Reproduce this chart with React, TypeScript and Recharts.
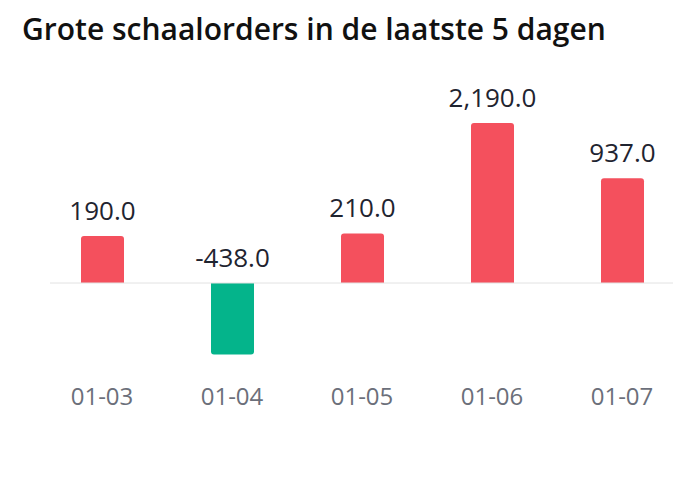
import React from 'react';
import { BarChart, Bar, XAxis, YAxis, Cell, LabelList, ReferenceLine, Rectangle } from 'recharts';

const days = ['01-03', '01-04', '01-05', '01-06', '01-07'];
const orders = [190, -438, 210, 2190, 937];

const RED = '#f4505d';
const GREEN = '#04b48b';
const FONT = '"Open Sans", "Noto Sans", sans-serif';

const data = days.map((day, i) => ({ day, value: orders[i] }));

const fmt = (v: number) => v.toLocaleString('en-US', { minimumFractionDigits: 1, maximumFractionDigits: 1 });

// bars keep a square edge on the zero line, rounded at the far end
const BarShape = (props: any) => {
  const { x, y, width, height, value } = props;
  const top = Math.min(y, y + height);
  const h = Math.abs(height);
  const v = Array.isArray(value) ? value[1] : value;
  const radius: [number, number, number, number] = v < 0 ? [0, 0, 3, 3] : [3, 3, 0, 0];
  return <Rectangle x={x} y={top} width={width} height={h} radius={radius} fill={props.fill} />;
};

const ValueLabel = (props: any) => {
  const { x, y, width, height, value } = props;
  const top = Math.min(y, y + height);
  return (
    <text x={x + width / 2} y={top - 16} textAnchor="middle" fontFamily={FONT} fontSize={26} fill="#1f2430">
      {fmt(value)}
    </text>
  );
};

export default function App() {
  return (
    <div style={{ position: 'absolute', left: 0, top: 0, width: 696, height: 480, background: '#fff' }}>
      <div
        style={{
          position: 'absolute',
          left: 22,
          top: 14,
          fontFamily: FONT,
          fontWeight: 600,
          fontSize: 30,
          lineHeight: 1,
          color: '#111',
          whiteSpace: 'nowrap',
        }}
      >
        Grote schaalorders in de laatste 5 dagen
      </div>
      <BarChart width={696} height={480} data={data} margin={{ top: 100, right: 9, bottom: 75, left: 37 }}>
        <XAxis
          dataKey="day"
          axisLine={false}
          tickLine={false}
          tickSize={0}
          tickMargin={13}
          height={30}
          tick={{ fontFamily: FONT, fontSize: 24, fill: '#6b6f7a' }}
        />
        <YAxis hide scale="sqrt" domain={[-724, 2865]} />
        <ReferenceLine
          y={0}
          shape={(p: any) => (
            <line x1={p.x1 + 13} x2={p.x2 - 14} y1={p.y1} y2={p.y2} stroke="#e2e2e2" strokeWidth={1} />
          )}
        />
        <Bar dataKey="value" barSize={43} shape={BarShape} isAnimationActive={false}>
          {data.map((d) => (
            <Cell key={d.day} fill={d.value < 0 ? GREEN : RED} />
          ))}
          <LabelList dataKey="value" content={ValueLabel} />
        </Bar>
      </BarChart>
    </div>
  );
}
